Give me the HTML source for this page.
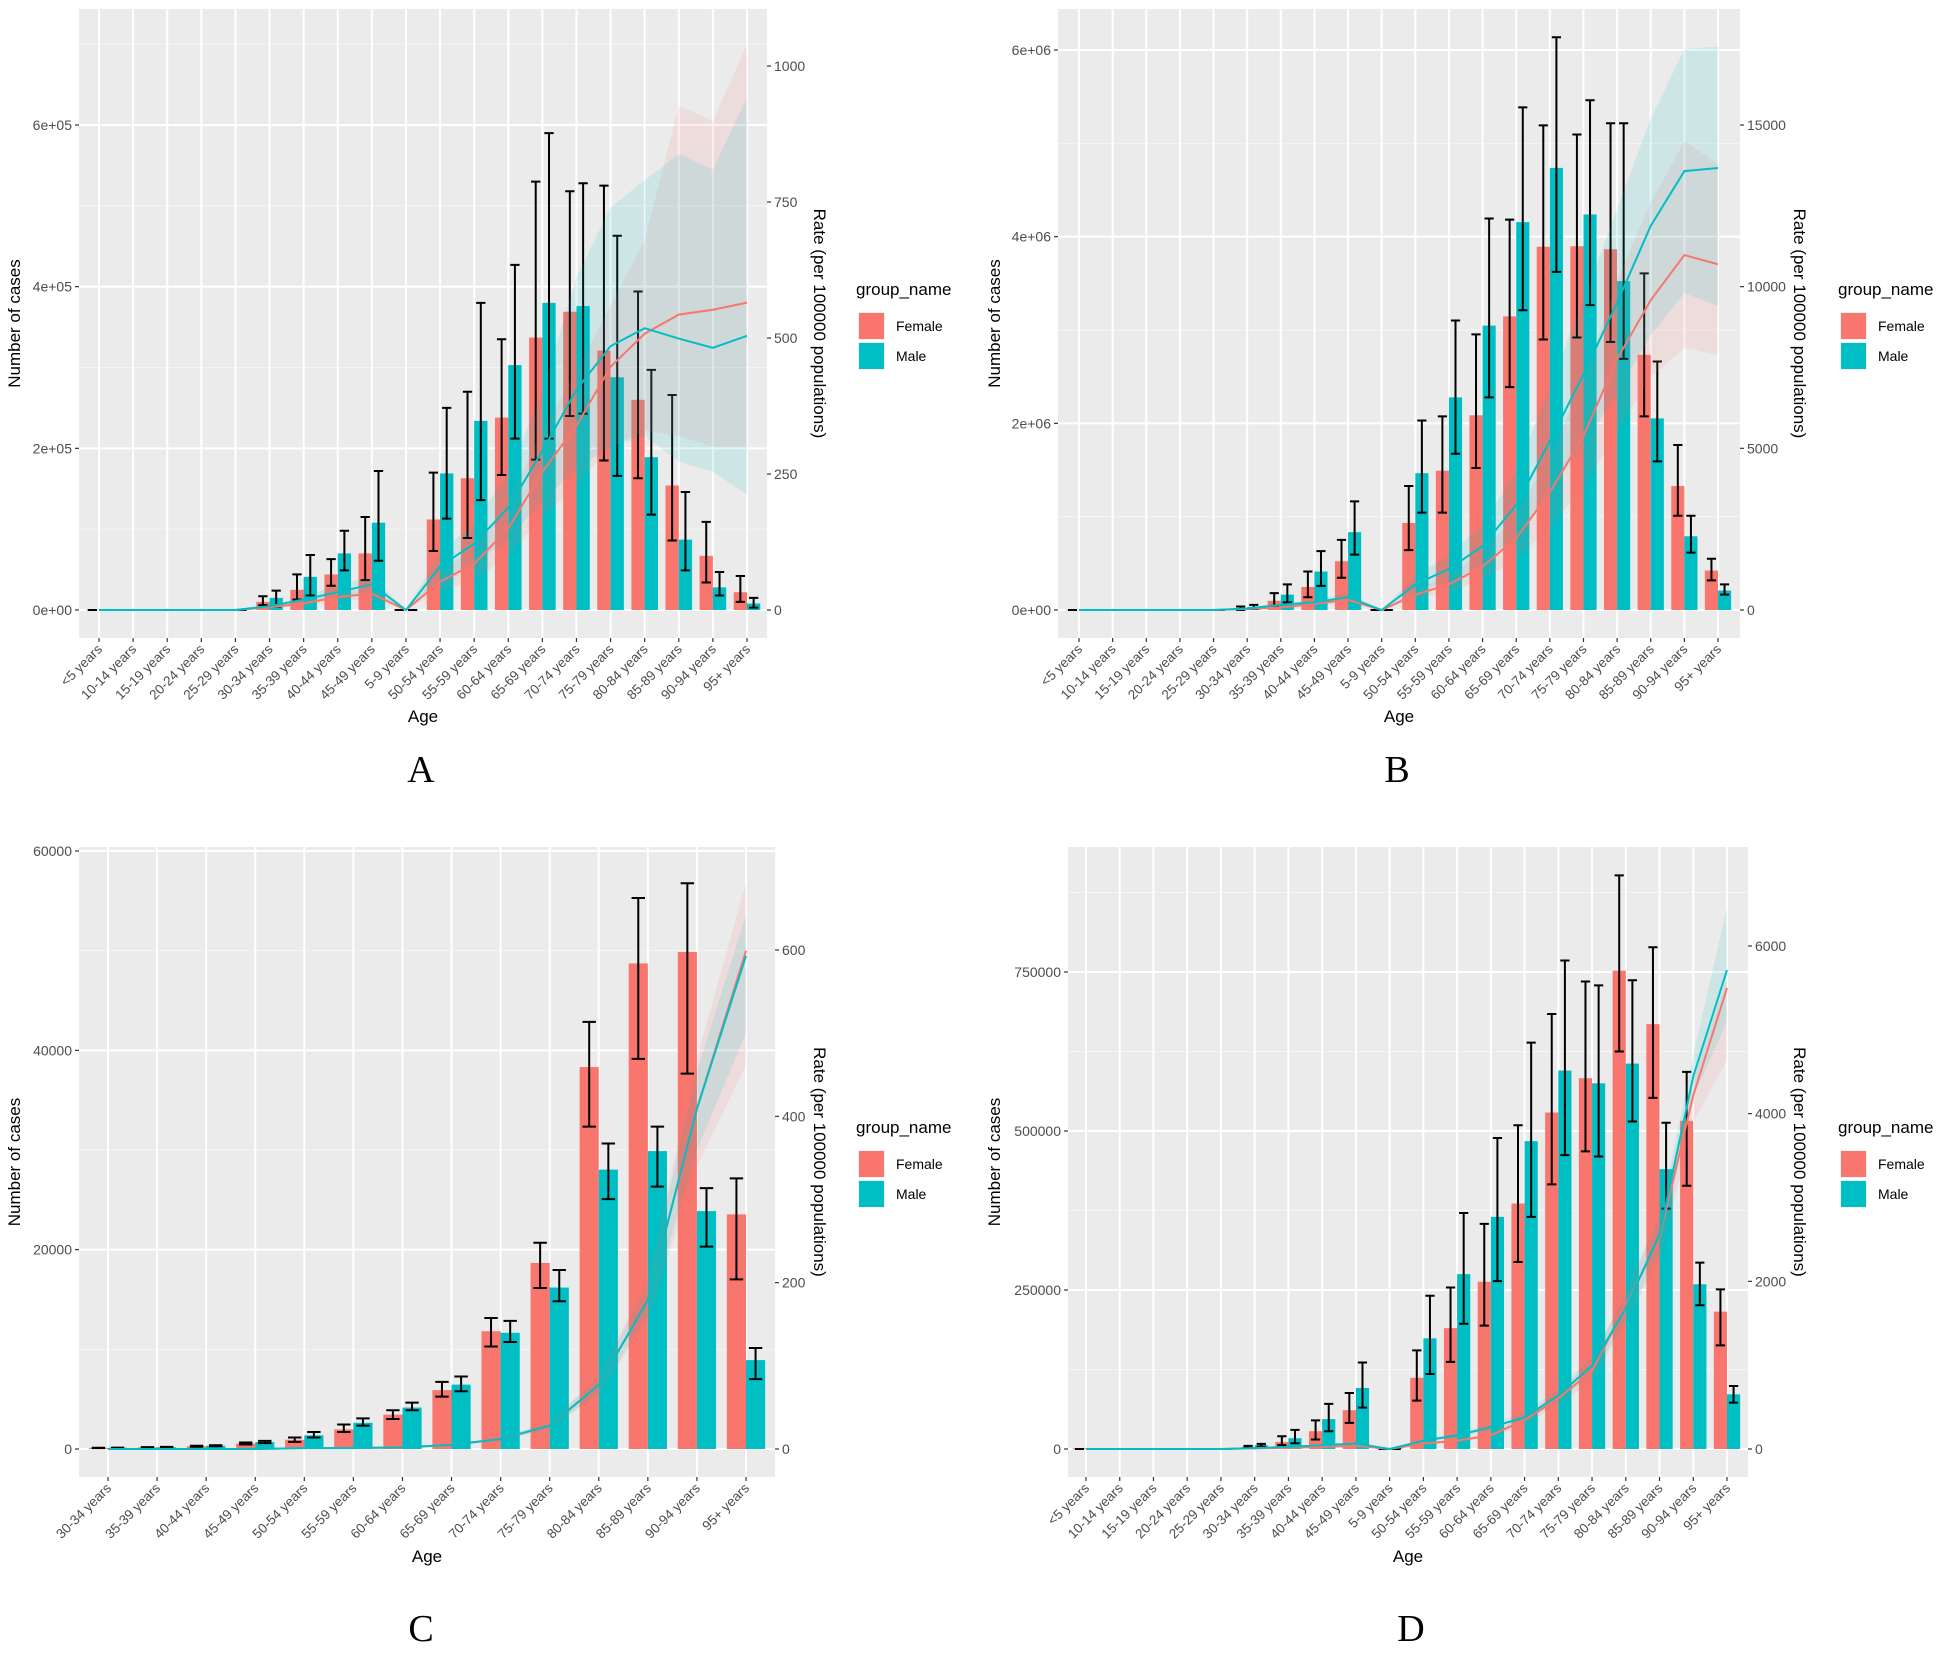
<!DOCTYPE html>
<html><head><meta charset="utf-8"><style>
html,body{margin:0;padding:0;background:#fff;}
svg{display:block;font-family:"Liberation Sans",sans-serif;}
</style></head><body>
<svg id="chart" width="1948" height="1671" viewBox="0 0 1948 1671" xmlns="http://www.w3.org/2000/svg">
<rect width="1948" height="1671" fill="#fff"/>
</svg>
<script>
const catsFull = ["<5 years","10-14 years","15-19 years","20-24 years","25-29 years","30-34 years","35-39 years","40-44 years","45-49 years","5-9 years","50-54 years","55-59 years","60-64 years","65-69 years","70-74 years","75-79 years","80-84 years","85-89 years","90-94 years","95+ years"];
const catsC = ["30-34 years","35-39 years","40-44 years","45-49 years","50-54 years","55-59 years","60-64 years","65-69 years","70-74 years","75-79 years","80-84 years","85-89 years","90-94 years","95+ years"];

const aFemale = [300,200,200,200,500,10000,25000,44000,70000,300,112000,163000,238000,337000,369000,321000,260000,154000,67000,22000];
const aFemaleLo = [0,0,0,0,0,6000,13000,30000,37000,0,73000,89000,167000,186000,240000,185000,163000,86000,34000,10000];
const aFemaleHi = [0,0,0,0,0,17000,44000,63000,115000,0,170000,270000,335000,530000,518000,525000,394000,266000,109000,42000];
const aMale = [300,200,200,200,500,15000,41000,70000,108000,300,169000,234000,303000,380000,376000,288000,189000,87000,28000,8000];
const aMaleLo = [0,0,0,0,0,4000,18000,49000,61000,0,113000,136000,212000,212000,243000,166000,118000,49000,18000,3000];
const aMaleHi = [0,0,0,0,0,24000,68000,98000,172000,0,250000,380000,427000,590000,528000,463000,297000,146000,47000,15000];
const aRateF = [0,0,0,0,0,5,12,24,30,0,52,85,150,254,339,447,508,543,552,565];
const aRateFLo = [0,0,0,0,0,3,8,16,20,0,35,55,100,170,230,300,330,320,300,300];
const aRateFHi = [0,0,0,0,0,7,16,32,40,0,70,115,200,330,440,560,680,927,899,1040];
const aRateM = [0,0,0,0,0,7,19,33,47,0,80,122,188,292,405,485,518,499,482,504];
const aRateMLo = [0,0,0,0,0,5,13,23,32,0,55,85,130,200,260,300,320,273,254,212];
const aRateMHi = [0,0,0,0,0,9,25,45,62,0,105,160,250,400,612,740,790,838,810,942];

const bFemale = [2000,1000,1000,1000,3000,16000,99000,247000,522000,3000,933000,1493000,2086000,3146000,3892000,3897000,3865000,2734000,1328000,423000];
const bFemaleLo = [0,0,0,0,0,0,44000,137000,346000,0,642000,1043000,1521000,2388000,2898000,2920000,2871000,2075000,1010000,318000];
const bFemaleHi = [0,0,0,0,0,38000,181000,412000,752000,0,1328000,2075000,2953000,4183000,5193000,5094000,5215000,3607000,1768000,549000];
const bMale = [2000,1000,1000,1000,3000,33000,165000,412000,834000,3000,1466000,2278000,3047000,4156000,4737000,4238000,3524000,2053000,790000,209000];
const bMaleLo = [0,0,0,0,0,11000,82000,258000,593000,0,1043000,1674000,2278000,3211000,3623000,3266000,2690000,1592000,615000,165000];
const bMaleHi = [0,0,0,0,0,55000,274000,631000,1164000,0,2031000,3102000,4194000,5385000,6137000,5462000,5215000,2662000,1010000,274000];
const bRateF = [0,0,0,0,0,32,79,190,317,0,475,792,1346,2218,3643,5386,7762,9583,10977,10692];
const bRateFLo = [0,0,0,0,0,20,55,130,220,0,330,560,950,1560,2550,3800,5500,7200,8100,7900];
const bRateFHi = [0,0,0,0,0,45,105,250,420,0,630,1050,1800,2950,4800,7100,10200,12600,14500,13800];
const bRateM = [0,0,0,0,0,48,158,238,396,0,792,1267,1980,3247,5227,7286,9504,11880,13575,13670];
const bRateMLo = [0,0,0,0,0,33,110,165,275,0,550,880,1380,2270,3650,5100,6700,8500,9800,9400];
const bRateMHi = [0,0,0,0,0,65,210,320,530,0,1050,1700,2650,4300,6900,9600,12400,15200,17345,17424];

const cFemale = [110,160,270,550,930,1970,3450,5910,11820,18670,38320,48720,49870,23540];
const cFemaleLo = [90,130,220,450,710,1700,3010,5260,10290,16150,32350,39140,37660,17020];
const cFemaleHi = [130,190,320,650,1150,2460,3890,6730,13140,20690,42860,55290,56770,27150];
const cMale = [120,180,330,700,1370,2630,4160,6460,11660,16200,28030,29890,23870,8920];
const cMaleLo = [100,150,280,590,1150,2350,3890,5800,10730,14830,25070,26330,20310,7010];
const cMaleHi = [140,210,380,810,1700,3070,4650,7280,12860,17960,30650,32350,26170,10130];
const cRateF = [0,0,0,0,1,1,2,5,12,28,77,179,409,599];
const cRateFLo = [0,0,0,0,1,1,2,4,10,24,66,155,340,462];
const cRateFHi = [0,0,0,0,1,1,2,6,14,32,88,205,470,681];
const cRateM = [0,0,0,0,1,1,2,5,12,28,77,179,409,593];
const cRateMLo = [0,0,0,0,1,1,2,4,10,24,68,160,360,500];
const cRateMHi = [0,0,0,0,1,1,2,6,14,32,86,198,455,642];

const dFemale = [1000,300,300,300,800,3400,11000,28000,61000,1000,112000,190000,263000,386000,529000,583000,752000,668000,516000,216000];
const dFemaleLo = [0,0,0,0,0,2000,6000,15000,41000,0,76000,137000,194000,294000,416000,468000,625000,552000,414000,163000];
const dFemaleHi = [0,0,0,0,0,5000,20000,45000,88000,0,155000,254000,354000,509000,684000,735000,902000,789000,593000,251000];
const dMale = [1000,300,300,300,800,6000,17000,47000,96000,1000,174000,275000,365000,484000,595000,575000,606000,440000,259000,86000];
const dMaleLo = [0,0,0,0,0,4000,9000,28000,65000,0,118000,197000,264000,365000,462000,460000,515000,378000,226000,73000];
const dMaleHi = [0,0,0,0,0,8000,30000,71000,136000,0,241000,371000,489000,639000,768000,729000,737000,513000,293000,99000];
const dRateF = [0,0,0,0,0,7,13,26,39,0,65,98,163,345,605,931,1712,2525,4217,5499];
const dRateFLo = [0,0,0,0,0,5,10,20,30,0,50,80,135,290,520,820,1520,2250,3900,4640];
const dRateFHi = [0,0,0,0,0,9,16,32,48,0,80,118,195,400,690,1050,1900,2800,4400,5600];
const dRateM = [0,0,0,0,0,10,26,46,65,0,98,163,260,377,638,996,1679,2558,4445,5714];
const dRateMLo = [0,0,0,0,0,7,20,36,52,0,80,135,220,320,560,890,1520,2350,4200,5096];
const dRateMHi = [0,0,0,0,0,13,32,56,78,0,116,190,300,435,716,1100,1840,2770,4700,6462];

const aLeftTicks = [0,200000,400000,600000];
const aLeftLabels = ["0e+00","2e+05","4e+05","6e+05"];
const aRightTicks = [0,250,500,750,1000];
const bLeftTicks = [0,2000000,4000000,6000000];
const bLeftLabels = ["0e+00","2e+06","4e+06","6e+06"];
const bRightTicks = [0,5000,10000,15000];
const cLeftTicks = [0,20000,40000,60000];
const cLeftLabels = ["0","20000","40000","60000"];
const cRightTicks = [0,200,400,600];
const dLeftTicks = [0,250000,500000,750000];
const dLeftLabels = ["0","250000","500000","750000"];
const dRightTicks = [0,2000,4000,6000];

const NS = "http://www.w3.org/2000/svg";
const svg = document.getElementById("chart");
const FEM = "#F8766D", MAL = "#00BFC4";

function mk(parent, tag, attrs, text){
  const e = document.createElementNS(NS, tag);
  for (const k in attrs) e.setAttribute(k, attrs[k]);
  if (text !== undefined) e.textContent = text;
  parent.appendChild(e);
  return e;
}

function panel(id, g, cats, fem, femLo, femHi, mal, malLo, malHi, rF, rFLo, rFHi, rM, rMLo, rMHi, lTicks, lLabels, rTicks){
  const grp = mk(svg, "g", {});
  
  
  const lMax = lTicks[lTicks.length-1], rMax = rTicks[rTicks.length-1];
  const yL = v => g.zero - v/lMax*(g.zero - g.lTopY);
  const yR = v => g.zero - v/rMax*(g.zero - g.rTopY);
  const n = cats.length;
  const step = (g.cLast - g.cFirst)/(n-1);
  const xC = i => g.cFirst + i*step;
  const bw = step*0.39;

  const bg = mk(grp, "rect", {x:g.x0, y:g.y0, width:g.x1-g.x0, height:g.y1-g.y0, fill:"#EBEBEB"});
  
  
  const lStep = lTicks[1]-lTicks[0];
  for (let v = lStep/2; yL(v) > g.y0; v += lStep){
    if (Math.abs((v/lStep) - Math.round(v/lStep)) < 0.01) continue;
    const ln = mk(grp, "line", {x1:g.x0, x2:g.x1, y1:yL(v), y2:yL(v), stroke:"#F5F5F5", "stroke-width":1});
    
    
  }
  lTicks.forEach((t,i) => {
    const ln = mk(grp, "line", {x1:g.x0, x2:g.x1, y1:yL(t), y2:yL(t), stroke:"#fff", "stroke-width":2});
    
    
    mk(grp, "line", {x1:g.x0-4, x2:g.x0, y1:yL(t), y2:yL(t), stroke:"#333", "stroke-width":1.2});
    const tx = mk(grp, "text", {x:g.x0-7, y:yL(t)+5, "text-anchor":"end", "font-size":14, fill:"#4D4D4D"}, lLabels[i]);
    
    
  });
  rTicks.forEach(t => {
    mk(grp, "line", {x1:g.x1, x2:g.x1+4, y1:yR(t), y2:yR(t), stroke:"#333", "stroke-width":1.2});
    const tx = mk(grp, "text", {x:g.x1+7, y:yR(t)+5, "font-size":14, fill:"#4D4D4D"}, String(t));
    
    
  });
  cats.forEach((c,i) => {
    const ln = mk(grp, "line", {x1:xC(i), x2:xC(i), y1:g.y0, y2:g.y1, stroke:"#fff", "stroke-width":2});
    
    
    mk(grp, "line", {x1:xC(i), x2:xC(i), y1:g.y1, y2:g.y1+4, stroke:"#333", "stroke-width":1.2});
    const tx = mk(grp, "text", {x:xC(i)+4, y:g.y1+12, "text-anchor":"end", "font-size":13.5, fill:"#4D4D4D", transform:`rotate(-45 ${xC(i)+4} ${g.y1+12})`}, c);
    
    
  });
  const series = [[fem,femLo,femHi,FEM,-1,"female"],[mal,malLo,malHi,MAL,1,"male"]];
  series.forEach(s => {
    s[0].forEach((v,i) => {
      const bx = s[4] < 0 ? xC(i)-bw : xC(i);
      const r = mk(grp, "rect", {x:bx, y:yL(v), width:bw, height:Math.max(0, g.zero - yL(v)), fill:s[3]});
      
      
    });
  });
  series.forEach(s => {
    s[0].forEach((v,i) => {
      const cx = xC(i) + s[4]*bw/2;
      const lo = s[1][i], hi = s[2][i];
      if (hi <= 0) {
        const e0 = mk(grp, "line", {x1:cx-bw*0.35, x2:cx+bw*0.35, y1:g.zero, y2:g.zero, stroke:"#000", "stroke-width":2});
        
        
        return;
      }
      const eg = mk(grp, "path", {d:`M${cx-bw*0.35},${yL(hi)}H${cx+bw*0.35}M${cx},${yL(hi)}V${yL(lo)}M${cx-bw*0.35},${yL(lo)}H${cx+bw*0.35}`, stroke:"#000", "stroke-width":2, fill:"none"});
      
      
    });
  });
  const rs = [[rF,rFLo,rFHi,FEM,"female"],[rM,rMLo,rMHi,MAL,"male"]];
  rs.forEach(s => {
    let d = "";
    s[2].forEach((v,i) => { d += (i?"L":"M") + xC(i) + "," + yR(v); });
    for (let i = n-1; i >= 0; i--) d += "L" + xC(i) + "," + yR(s[1][i]);
    const p = mk(grp, "path", {d:d+"Z", fill:s[3], "fill-opacity":0.12, stroke:"none"});
    
    
  });
  rs.forEach(s => {
    const pts = s[0].map((v,i) => xC(i) + "," + yR(v)).join(" ");
    const l = mk(grp, "polyline", {points:pts, fill:"none", stroke:s[3], "stroke-width":2});
    
    
  });
  const cxp = (g.x0+g.x1)/2, cyp = (g.y0+g.y1)/2;
  const yt = mk(grp, "text", {x:g.ylx, y:cyp, "text-anchor":"middle", "font-size":17, fill:"#000", transform:`rotate(-90 ${g.ylx} ${cyp})`}, "Number of cases");
  
  
  const rt = mk(grp, "text", {x:g.yrx, y:cyp, "text-anchor":"middle", "font-size":17, fill:"#000", transform:`rotate(90 ${g.yrx} ${cyp})`}, "Rate (per 100000 populations)");
  
  
  const xt = mk(grp, "text", {x:cxp, y:g.agey, "text-anchor":"middle", "font-size":17, fill:"#000"}, "Age");
  
  
  const lt = mk(grp, "text", {x:g.letx, y:g.lety, "text-anchor":"middle", "font-size":38, "font-family":"Liberation Serif, serif", fill:"#000"}, id);
  
  
  const lg = mk(grp, "g", {});
  
  
  mk(lg, "text", {x:g.lgx, y:g.lgy, "font-size":17, fill:"#000"}, "group_name");
  [["Female",FEM],["Male",MAL]].forEach((e,i) => {
    const ky = g.lgy + 17 + i*30;
    const en = mk(lg, "g", {});
    
    
    mk(en, "rect", {x:g.lgx+2, y:ky, width:27, height:28, fill:"#F2F2F2"});
    mk(en, "rect", {x:g.lgx+3, y:ky+1, width:25, height:26, fill:e[1]});
    mk(en, "text", {x:g.lgx+40, y:ky+19, "font-size":14, fill:"#000"}, e[0]);
  });
}

panel("A", {x0:79,x1:767,y0:9,y1:638,zero:610,lTopY:125,rTopY:66,cFirst:99,cLast:747,ylx:20,yrx:814,agey:722,letx:421,lety:782,lgx:856,lgy:295},
  catsFull,aFemale,aFemaleLo,aFemaleHi,aMale,aMaleLo,aMaleHi,aRateF,aRateFLo,aRateFHi,aRateM,aRateMLo,aRateMHi,aLeftTicks,aLeftLabels,aRightTicks);
panel("B", {x0:1058,x1:1740,y0:9,y1:638,zero:610,lTopY:50,rTopY:125,cFirst:1079,cLast:1718,ylx:1000,yrx:1794,agey:722,letx:1397,lety:782,lgx:1838,lgy:295},
  catsFull,bFemale,bFemaleLo,bFemaleHi,bMale,bMaleLo,bMaleHi,bRateF,bRateFLo,bRateFHi,bRateM,bRateMLo,bRateMHi,bLeftTicks,bLeftLabels,bRightTicks);
panel("C", {x0:79,x1:775,y0:847,y1:1477,zero:1449,lTopY:851,rTopY:950,cFirst:108,cLast:746,ylx:20,yrx:814,agey:1562,letx:421,lety:1641,lgx:856,lgy:1133},
  catsC,cFemale,cFemaleLo,cFemaleHi,cMale,cMaleLo,cMaleHi,cRateF,cRateFLo,cRateFHi,cRateM,cRateMLo,cRateMHi,cLeftTicks,cLeftLabels,cRightTicks);
panel("D", {x0:1068,x1:1748,y0:847,y1:1477,zero:1449,lTopY:972,rTopY:946,cFirst:1086,cLast:1727,ylx:1000,yrx:1794,agey:1562,letx:1411,lety:1641,lgx:1838,lgy:1133},
  catsFull,dFemale,dFemaleLo,dFemaleHi,dMale,dMaleLo,dMaleHi,dRateF,dRateFLo,dRateFHi,dRateM,dRateMLo,dRateMHi,dLeftTicks,dLeftLabels,dRightTicks);
</script>
</body></html>
